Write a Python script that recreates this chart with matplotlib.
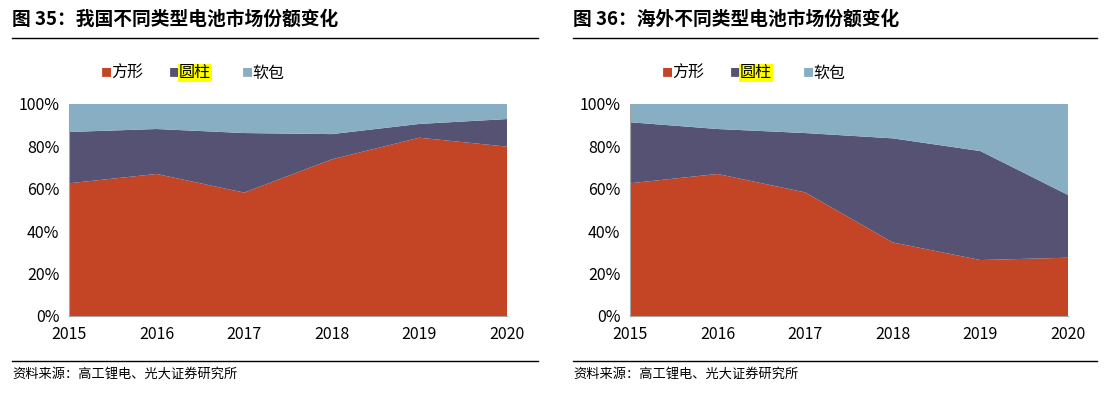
import matplotlib.pyplot as plt
from matplotlib.lines import Line2D

plt.rcParams['font.family'] = ['Noto Sans CJK SC', 'DejaVu Sans']

# -------------------------------------------------
# data (shares in %)
# -------------------------------------------------
years = [2015, 2016, 2017, 2018, 2019, 2020]
series_names = ["方形", "圆柱", "软包"]

cn_prismatic   = [62.6, 67.0, 58.2, 73.9, 84.1, 79.9]
cn_cylindrical = [24.2, 21.2, 28.1, 11.9, 6.5, 13.0]
cn_pouch       = [13.2, 11.8, 13.7, 14.2, 9.4, 7.1]

os_prismatic   = [62.6, 67.0, 58.3, 34.7, 26.4, 27.5]
os_cylindrical = [28.8, 21.2, 28.0, 49.1, 51.4, 29.6]
os_pouch       = [8.6, 11.8, 13.7, 16.2, 22.2, 42.9]

yticks = [0, 20, 40, 60, 80, 100]
ytick_labels = ["0%", "20%", "40%", "60%", "80%", "100%"]

titles = ["图 35：我国不同类型电池市场份额变化", "图 36：海外不同类型电池市场份额变化"]
source = "资料来源：高工锂电、光大证券研究所"

colors = ["#C44426", "#565274", "#87AEC2"]

W, H = 1107, 394
fig = plt.figure(figsize=(W / 100, H / 100), dpi=100)


def fx(px):
    return px / W


def fy(py):
    return 1 - py / H


panels = [
    (69, 12, 538, titles[0], (cn_prismatic, cn_cylindrical, cn_pouch)),
    (630, 573, 1097, titles[1], (os_prismatic, os_cylindrical, os_pouch)),
]

for ax_left, x0, x1, title, data in panels:
    ax = fig.add_axes([fx(ax_left), fy(316), fx(438), fy(104) - fy(316)])
    ax.stackplot(years, *data, colors=colors, linewidth=0)
    ax.set_xlim(years[0], years[-1])
    ax.set_ylim(0, 100)
    ax.set_yticks(yticks)
    ax.set_yticklabels(ytick_labels, fontsize=11.5)
    ax.set_xticks(years)
    ax.set_xticklabels([str(y) for y in years], fontsize=11.5)
    for s in ["top", "right"]:
        ax.spines[s].set_visible(False)
    for s in ["left", "bottom"]:
        ax.spines[s].set_color("#A6A6A6")
    ax.tick_params(axis="y", length=0, pad=7)
    ax.tick_params(axis="x", length=0, pad=7)

    # title + rules
    fig.text(fx(x0), fy(19), title, fontsize=13.5, fontweight="bold",
             va="center", ha="left")
    fig.add_artist(Line2D([fx(x0), fx(x1)], [fy(38), fy(38)],
                          color="black", lw=1))
    fig.add_artist(Line2D([fx(x0), fx(x1)], [fy(361), fy(361)],
                          color="black", lw=1))
    fig.text(fx(x0), fy(374), source, fontsize=9.5, va="center", ha="left")

    # legend drawn by hand (圆柱 has a yellow highlight)
    leg_x = [ax_left + 32, ax_left + 100, ax_left + 173]
    for name, c, lx in zip(series_names, colors, leg_x):
        fig.text(fx(lx), fy(73), "■", color=c, fontsize=8,
                 va="center", ha="left")
        kw = {}
        if name == "圆柱":
            kw["bbox"] = dict(facecolor="#FFFF00", edgecolor="none", pad=0.5)
        fig.text(fx(lx + 10), fy(73), name, fontsize=11.5,
                 va="center", ha="left", **kw)

fig.savefig("out.png", dpi=100)
